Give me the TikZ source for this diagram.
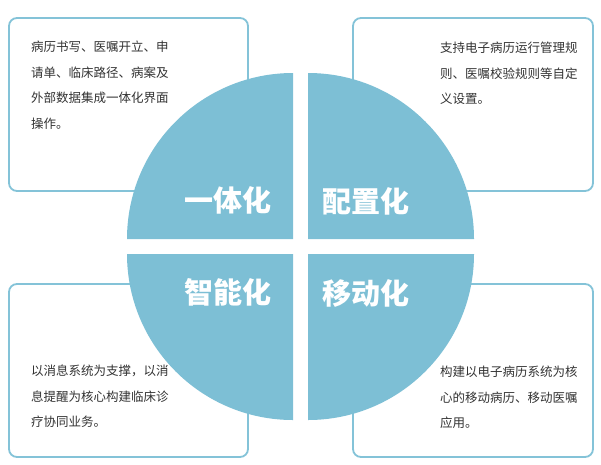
\documentclass[tikz,border=0pt]{standalone}
\usepackage{fontspec}
\newfontfamily\cjk{Noto Sans CJK SC}
\definecolor{qblue}{HTML}{7DBFD5}
\definecolor{bline}{HTML}{84C3D8}
\definecolor{tgray}{HTML}{333333}
\begin{document}
\begin{tikzpicture}[x=1pt,y=-1pt,
  card/.style={draw=bline,line width=1.8pt,rounded corners=8pt,fill=white},
  quarter/.style={fill=qblue,draw=none},
  body/.style={anchor=north west,inner sep=0pt,align=left,text=tgray,
    font=\cjk\fontsize{12.5}{25.5}\selectfont},
  title/.style={text=white,inner sep=0pt,font=\cjk\bfseries\fontsize{29}{29}\selectfont}]
\useasboundingbox (0,0) rectangle (601,464);
% cards
\draw[card] (9,18) rectangle (248,191);
\draw[card] (353,18) rectangle (593,191);
\draw[card] (9,284) rectangle (248,457);
\draw[card] (353,284) rectangle (593,457);
% quarters
\fill[quarter] (293,239) -- (127,239) arc[start angle=180,end angle=270,radius=166] -- cycle;
\fill[quarter] (308,239) -- (308,73) arc[start angle=-90,end angle=0,radius=166] -- cycle;
\fill[quarter] (293,254) -- (127,254) arc[start angle=180,end angle=90,radius=166] -- cycle;
\fill[quarter] (308,254) -- (308,420) arc[start angle=90,end angle=0,radius=166] -- cycle;
% titles
\node[title] (t1) at (227.5,200) {一体化};
\node[title] (t2) at (366,201) {配置化};
\node[title] (t3) at (227.5,292) {智能化};
\node[title] (t4) at (366,293) {移动化};
% bodies
\node[body] (b1) at (31,41) {病历书写、医嘱开立、申\\请单、临床路径、病案及\\外部数据集成一体化界面\\操作。};
\node[body] (b2) at (440,42) {支持电子病历运行管理规\\则、医嘱校验规则等自定\\义设置。};
\node[body] (b3) at (31,365) {以消息系统为支撑，以消\\息提醒为核心构建临床诊\\疗协同业务。};
\node[body] (b4) at (440,366) {构建以电子病历系统为核\\心的移动病历、移动医嘱\\应用。};
\end{tikzpicture}
\end{document}
